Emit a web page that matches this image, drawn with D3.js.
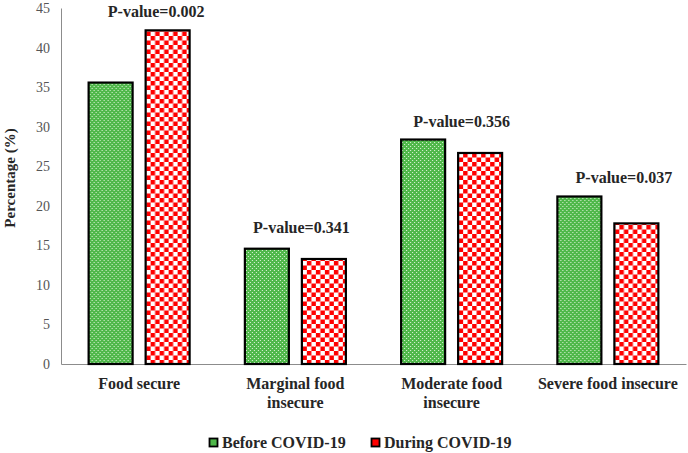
<!DOCTYPE html>
<html>
<head>
<meta charset="utf-8">
<script src="https://cdn.jsdelivr.net/npm/d3@7/dist/d3.min.js"></script>
<style>
  html, body { margin: 0; padding: 0; background: #fff; }
  svg { display: block; }
  svg text { font-family: "Liberation Serif", "DejaVu Serif", serif; }
</style>
</head>
<body>
<svg id="chart" width="688" height="453"></svg>
<script>
const categories = [["Food secure"], ["Marginal food", "insecure"], ["Moderate food", "insecure"], ["Severe food insecure"]];
const seriesNames = ["Before COVID-19", "During COVID-19"];
const beforeValues = [35.7, 14.7, 28.5, 21.3];
const duringValues = [42.3, 13.4, 26.8, 17.9];
const pValueLabels = ["P-value=0.002", "P-value=0.341", "P-value=0.356", "P-value=0.037"];
const yTicks = [0, 5, 10, 15, 20, 25, 30, 35, 40, 45];

const svg = d3.select("#chart");
const margin = { left: 61, right: 2, top: 8, bottom: 89 };
const W = 688, H = 453;
// horizontal nudges of the p-value labels, as in the original layout
const pShift = [17, 6, 10, 16];
const pRaise = [12, 15, 12, 12];

// patterns
const defs = svg.append("defs");
const pg = defs.append("pattern").attr("id", "greenDots").attr("patternUnits", "userSpaceOnUse")
  .attr("width", 4).attr("height", 4);
pg.append("rect").attr("width", 4).attr("height", 4).attr("fill", "#4fb84a");
pg.append("rect").attr("x", 0).attr("y", 0).attr("width", 1).attr("height", 1).attr("fill", "#e4f5df");
pg.append("rect").attr("x", 2).attr("y", 2).attr("width", 1).attr("height", 1).attr("fill", "#e4f5df");

const pr = defs.append("pattern").attr("id", "redCheck").attr("patternUnits", "userSpaceOnUse")
  .attr("width", 9).attr("height", 9);
pr.append("rect").attr("width", 9).attr("height", 9).attr("fill", "#ffffff");
pr.append("rect").attr("x", 0).attr("y", 0).attr("width", 4.5).attr("height", 4.5).attr("fill", "#ff0000");
pr.append("rect").attr("x", 4.5).attr("y", 4.5).attr("width", 4.5).attr("height", 4.5).attr("fill", "#ff0000");

const fills = ["url(#greenDots)", "url(#redCheck)"];

const x0 = d3.scaleBand().domain(d3.range(categories.length))
  .range([margin.left, W - margin.right]).paddingInner(0).paddingOuter(0);
const innerWidth = 103;
const x1 = d3.scaleBand().domain([0, 1]).range([0, innerWidth]).paddingInner(0.193).paddingOuter(0);
const y = d3.scaleLinear().domain([0, 45]).range([H - margin.bottom, margin.top]);

// y axis
const yAxis = d3.axisLeft(y).tickValues(yTicks).tickSize(0).tickPadding(11);
const gy = svg.append("g").attr("transform", `translate(${margin.left},0)`).call(yAxis);
gy.attr("font-family", null).attr("font-size", null);
gy.select(".domain").attr("stroke", "#8c8c8c").attr("stroke-width", 1);
gy.selectAll("text").style("font-size", "14px").attr("fill", "#555");

// x axis
const xAxis = d3.axisBottom(x0).tickSize(0).tickFormat("");
const gx = svg.append("g").attr("transform", `translate(0,${y(0)})`).call(xAxis);
gx.select(".domain").attr("stroke", "#8c8c8c").attr("stroke-width", 1);

// bars
const groups = svg.append("g").selectAll("g").data(categories.map((c, i) => i)).join("g")
  .attr("transform", i => `translate(${x0(i) + (x0.bandwidth() - innerWidth) / 2},0)`);
groups.selectAll("rect").data(i => [beforeValues[i], duringValues[i]]).join("rect")
  .attr("x", (d, j) => x1(j) + 1)
  .attr("width", x1.bandwidth() - 2)
  .attr("y", d => y(d) + 1)
  .attr("height", d => y(0) - y(d) - 1)
  .attr("fill", (d, j) => fills[j])
  .attr("stroke", "#000").attr("stroke-width", 2.2);

// p-value labels
svg.append("g").selectAll("text").data(pValueLabels).join("text")
  .attr("x", (d, i) => x0(i) + x0.bandwidth() / 2 + pShift[i])
  .attr("y", (d, i) => y(Math.max(beforeValues[i], duringValues[i])) - pRaise[i])
  .attr("text-anchor", "middle")
  .style("font-weight", "bold").style("font-size", "16px").attr("fill", "#262626")
  .text(d => d);

// category labels
const cl = svg.append("g").selectAll("text").data(categories).join("text")
  .attr("x", (d, i) => x0(i) + x0.bandwidth() / 2)
  .attr("y", y(0) + 25)
  .attr("text-anchor", "middle")
  .style("font-weight", "bold").style("font-size", "16px").attr("fill", "#262626");
cl.selectAll("tspan").data(d => d).join("tspan")
  .attr("x", function () { return d3.select(this.parentNode).attr("x"); })
  .attr("dy", (d, k) => k === 0 ? 0 : 19)
  .text(d => d);

// y label
svg.append("text")
  .attr("transform", `translate(15,${(y(0) + y(45)) / 2 - 8}) rotate(-90)`)
  .attr("text-anchor", "middle")
  .style("font-weight", "bold").style("font-size", "15px").attr("fill", "#262626")
  .text("Percentage (%)");

// legend
const legendX = [209, 371];
const lg = svg.append("g").selectAll("g").data(seriesNames).join("g")
  .attr("transform", (d, i) => `translate(${legendX[i]},438)`);
lg.append("rect").attr("x", 0.5).attr("y", 0.5).attr("width", 8).attr("height", 8)
  .attr("fill", (d, i) => i === 0 ? "#4fb84a" : "#ff0000").attr("stroke", "#000").attr("stroke-width", 1.8);
lg.append("text").attr("x", 13).attr("y", 9.5)
  .style("font-weight", "bold").style("font-size", "16px").attr("fill", "#262626")
  .text(d => d);
</script>
</body>
</html>
